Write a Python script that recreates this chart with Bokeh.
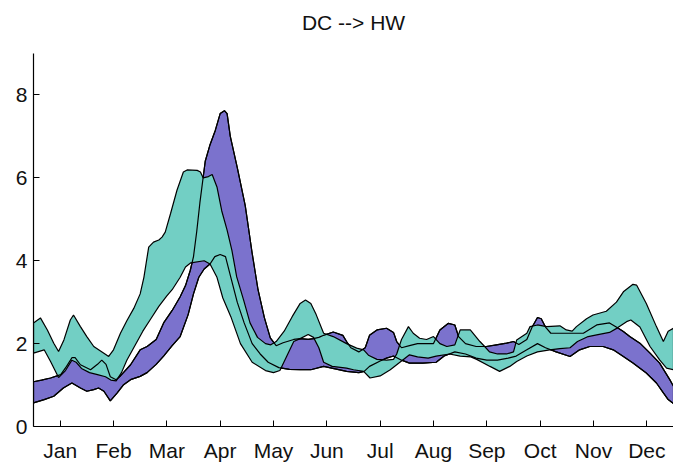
from bokeh.plotting import figure
from bokeh.models import Range1d, FixedTicker, LinearAxis
from bokeh.embed import file_html
from bokeh.resources import INLINE

# ---- data (x in months from 1 Jan, 0..12) ----
title_text = "DC --> HW"
months = ["Jan", "Feb", "Mar", "Apr", "May", "Jun", "Jul", "Aug", "Sep", "Oct", "Nov", "Dec"]
month_ticks = [0.5, 1.5, 2.5, 3.5, 4.5, 5.5, 6.5, 7.5, 8.5, 9.5, 10.5, 11.5]
y_ticks = [0, 2, 4, 6, 8]

purple_upper_x = [0.00, 0.15, 0.32, 0.51, 0.62, 0.72, 0.78, 0.88, 1.07, 1.20, 1.28, 1.36, 1.44, 1.55,
                  1.63, 1.82, 2.00, 2.13, 2.30, 2.44, 2.60, 2.75, 2.85, 2.94, 3.00, 3.06, 3.12, 3.17,
                  3.22, 3.31, 3.41, 3.50, 3.58, 3.63, 3.69, 3.82, 3.97, 4.10, 4.21, 4.33, 4.44, 4.55,
                  4.68, 4.88, 5.00, 5.15, 5.25, 5.35, 5.44, 5.62, 5.80, 5.87, 5.95, 6.10, 6.22, 6.30,
                  6.44, 6.62, 6.75, 6.81, 6.90, 7.05, 7.20, 7.35, 7.50, 7.62, 7.78, 7.90, 7.97, 8.10,
                  8.30, 8.49, 8.68, 8.87, 9.00, 9.10, 9.25, 9.35, 9.45, 9.52, 9.60, 9.70, 9.93, 10.31,
                  10.56, 10.80, 10.95, 11.06, 11.18, 11.37, 11.56, 11.74, 11.93, 12.00]
purple_upper_y = [1.08, 1.12, 1.17, 1.25, 1.45, 1.66, 1.66, 1.49, 1.37, 1.50, 1.60, 1.50, 1.20, 1.13,
                  1.22, 1.49, 1.85, 1.93, 2.10, 2.50, 2.80, 3.13, 3.40, 3.77, 4.10, 4.70, 5.40, 5.90,
                  6.40, 6.80, 7.15, 7.55, 7.62, 7.55, 7.00, 6.25, 5.33, 4.18, 3.30, 2.62, 2.14, 1.95,
                  2.02, 2.10, 2.12, 2.10, 2.12, 2.15, 2.20, 2.28, 2.20, 2.05, 1.90, 1.80, 1.90, 2.20,
                  2.33, 2.37, 2.27, 2.05, 1.90, 1.95, 2.00, 2.00, 2.00, 2.33, 2.49, 2.45, 2.17, 2.00,
                  1.93, 1.93, 1.97, 2.01, 2.05, 1.98, 2.10, 2.40, 2.63, 2.60, 2.40, 2.25, 2.25, 2.25,
                  2.45, 2.50, 2.38, 2.29, 2.17, 2.01, 1.77, 1.53, 1.13, 0.97]

purple_lower_x = [0.00, 0.20, 0.38, 0.56, 0.72, 0.88, 1.00, 1.13, 1.22, 1.32, 1.44, 1.57, 1.69, 1.82,
                  2.00, 2.13, 2.30, 2.44, 2.60, 2.75, 2.90, 3.00, 3.10, 3.20, 3.31, 3.40, 3.50, 3.60,
                  3.70, 3.82, 3.95, 4.10, 4.25, 4.40, 4.60, 4.80, 5.00, 5.20, 5.44, 5.70, 5.87, 6.10,
                  6.20, 6.30, 6.50, 6.62, 6.75, 6.90, 7.05, 7.30, 7.55, 7.70, 7.90, 8.10, 8.30, 8.50,
                  8.70, 8.90, 9.05, 9.25, 9.45, 9.60, 9.80, 10.06, 10.24, 10.43, 10.68, 10.87, 11.06,
                  11.24, 11.49, 11.68, 11.81, 11.90, 12.00]
purple_lower_y = [0.57, 0.65, 0.73, 0.93, 1.05, 0.93, 0.85, 0.89, 0.93, 0.85, 0.62, 0.81, 1.01, 1.13,
                  1.21, 1.30, 1.50, 1.70, 1.95, 2.17, 2.70, 3.20, 3.60, 3.80, 3.92, 4.10, 4.15, 4.10,
                  3.60, 3.00, 2.50, 2.00, 1.75, 1.55, 1.42, 1.38, 1.37, 1.37, 1.45, 1.38, 1.33, 1.30,
                  1.33, 1.45, 1.58, 1.65, 1.70, 1.60, 1.53, 1.53, 1.55, 1.70, 1.80, 1.75, 1.65, 1.60,
                  1.60, 1.65, 1.70, 1.85, 2.00, 1.90, 1.80, 1.69, 1.85, 1.93, 1.93, 1.85, 1.69,
                  1.53, 1.29, 1.05, 0.81, 0.65, 0.55]

teal_upper_x = [0.00, 0.13, 0.26, 0.38, 0.47, 0.57, 0.69, 0.75, 0.88, 1.00, 1.13, 1.32, 1.41, 1.50,
                1.63, 1.75, 1.88, 2.00, 2.07, 2.16, 2.25, 2.35, 2.41, 2.47, 2.57, 2.69, 2.81, 2.88,
                3.07, 3.13, 3.18, 3.28, 3.35, 3.44, 3.53, 3.63, 3.72, 3.81, 3.94, 4.06, 4.20, 4.35,
                4.45, 4.55, 4.70, 4.85, 5.00, 5.10, 5.20, 5.30, 5.44, 5.62, 5.87, 6.06, 6.19, 6.28,
                6.44, 6.62, 6.75, 6.81, 6.90, 7.03, 7.12, 7.24, 7.37, 7.50, 7.62, 7.75, 7.90, 8.00,
                8.19, 8.37, 8.46, 8.55, 8.70, 8.87, 9.00, 9.06, 9.25, 9.31, 9.45, 9.62, 9.87, 9.99,
                10.10, 10.18, 10.37, 10.49, 10.74, 10.93, 11.06, 11.24, 11.31, 11.49, 11.68, 11.81,
                11.90, 12.00]
teal_upper_y = [2.50, 2.62, 2.33, 2.01, 1.81, 2.09, 2.57, 2.69, 2.41, 2.17, 1.93, 1.77, 1.69, 1.85,
                2.25, 2.55, 2.85, 3.20, 3.60, 4.33, 4.45, 4.50, 4.57, 4.69, 5.14, 5.70, 6.14, 6.19,
                6.18, 6.14, 6.00, 6.03, 6.08, 5.78, 5.20, 4.74, 4.25, 3.61, 3.05, 2.50, 2.15, 2.00,
                1.97, 2.05, 2.30, 2.65, 2.97, 3.05, 2.97, 2.70, 2.25, 2.17, 2.00, 1.89, 1.85, 1.72,
                1.62, 1.60, 1.62, 1.75, 2.10, 2.41, 2.25, 2.13, 2.10, 2.17, 2.00, 1.93, 1.97, 2.33,
                2.33, 2.05, 1.93, 1.80, 1.75, 1.75, 1.80, 2.09, 2.25, 2.41, 2.45, 2.41, 2.43, 2.33,
                2.30, 2.41, 2.60, 2.69, 2.78, 3.00, 3.25, 3.43, 3.41, 2.97, 2.41, 2.05,
                2.30, 2.37]

teal_lower_x = [0.00, 0.20, 0.32, 0.47, 0.60, 0.72, 0.80, 0.90, 1.05, 1.20, 1.35, 1.45, 1.55, 1.65,
                1.75, 1.90, 2.05, 2.20, 2.35, 2.50, 2.60, 2.75, 2.85, 2.95, 3.20, 3.31, 3.44, 3.55,
                3.70, 3.88, 4.10, 4.35, 4.50, 4.62, 4.75, 4.88, 5.00, 5.15, 5.25, 5.35, 5.44, 5.60,
                5.87, 6.00, 6.19, 6.31, 6.50, 6.69, 6.87, 7.05, 7.20, 7.40, 7.55, 7.80, 8.00, 8.20,
                8.31, 8.56, 8.74, 8.93, 9.06, 9.25, 9.45, 9.68, 9.87, 10.06, 10.20, 10.40, 10.56,
                10.80, 10.95, 11.12, 11.20, 11.37, 11.56, 11.74, 11.87, 12.00]
teal_lower_y = [1.77, 1.85, 1.57, 1.18, 1.35, 1.60, 1.55, 1.40, 1.30, 1.25, 1.20, 1.12, 1.10, 1.30,
                1.60, 1.95, 2.30, 2.60, 2.90, 3.15, 3.30, 3.60, 3.85, 3.95, 4.00, 3.92, 3.60, 3.10,
                2.65, 2.00, 1.55, 1.35, 1.30, 1.35, 1.70, 2.05, 2.12, 2.22, 2.15, 1.90, 1.55, 1.45,
                1.41, 1.37, 1.33, 1.17, 1.22, 1.37, 1.55, 1.73, 1.68, 1.65, 1.70, 1.75, 1.70, 1.68,
                1.62, 1.45, 1.33, 1.45, 1.57, 1.70, 1.80, 1.85, 1.88, 1.90, 2.05, 2.17, 2.21,
                2.27, 2.38, 2.53, 2.57, 2.40, 1.93, 1.61, 1.41, 1.37]

PURPLE = "#7b72cd"
TEAL = "#72cfc4"
FONT = "Liberation Sans"

p = figure(width=673, height=464, output_backend="svg", toolbar_location=None,
           x_range=Range1d(0, 12), y_range=Range1d(0, 9),
           min_border_left=33, min_border_right=0, min_border_top=53, min_border_bottom=37)
p.outline_line_color = None
p.background_fill_color = "white"
p.border_fill_color = "white"
p.grid.visible = False

def band(xu, yu, xl, yl, color):
    xs = list(xu) + list(xl)[::-1]
    ys = list(yu) + list(yl)[::-1]
    p.patch(xs, ys, fill_color=color, line_color="black", line_width=1.2)

band(purple_upper_x, purple_upper_y, purple_lower_x, purple_lower_y, PURPLE)
band(teal_upper_x, teal_upper_y, teal_lower_x, teal_lower_y, TEAL)
p.line(purple_upper_x, purple_upper_y, line_color="black", line_width=1.2)
p.line(purple_lower_x, purple_lower_y, line_color="black", line_width=1.2)

for ax in (p.xaxis, p.yaxis):
    ax.axis_line_color = "black"
    ax.axis_line_width = 1.2
    ax.major_tick_line_color = "black"
    ax.major_tick_in = 6
    ax.major_tick_out = 0
    ax.minor_tick_line_color = None
    ax.major_label_text_font = FONT
    ax.major_label_text_font_size = "21px"
    ax.major_label_text_color = "#111111"

p.xaxis.ticker = FixedTicker(ticks=month_ticks)
p.xaxis.major_label_overrides = {t: m for t, m in zip(month_ticks, months)}
p.xaxis.major_label_standoff = 12
p.yaxis.ticker = FixedTicker(ticks=y_ticks)
p.yaxis.major_label_standoff = 6

# chart title: carried by a bare axis above the plot (no line, no ticks), centred on the plot area
top = LinearAxis(ticker=FixedTicker(ticks=[]), axis_label=title_text,
                 axis_line_color=None, major_tick_line_color=None, minor_tick_line_color=None,
                 major_tick_in=0, major_tick_out=0, major_label_standoff=0,
                 axis_label_standoff=20, axis_label_text_font=FONT,
                 axis_label_text_font_size="21px", axis_label_text_font_style="normal",
                 axis_label_text_color="#111111")
p.add_layout(top, "above")

open("out.html", "w").write(file_html(p, INLINE))
